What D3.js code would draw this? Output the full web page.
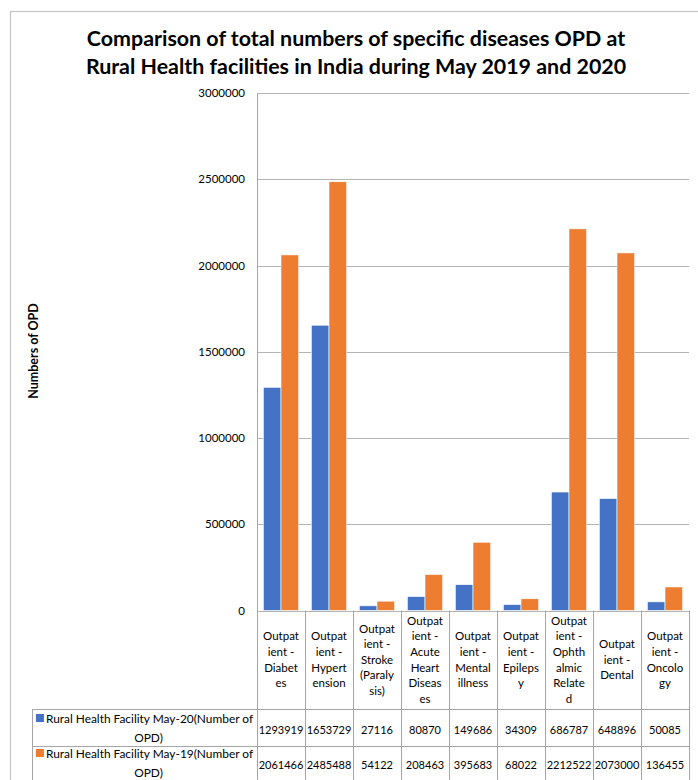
<!DOCTYPE html>
<html>
<head>
<meta charset="utf-8">
<script src="https://cdn.jsdelivr.net/npm/d3@7"></script>
<style>
  html, body { margin: 0; padding: 0; background: #fff; }
  svg { display: block; }
  text { font-family: Lato, "Open Sans", sans-serif; fill: #000; }
</style>
</head>
<body>
<svg id="chart" width="698" height="780"></svg>
<script>
// Diseases compared (full names) and how each is wrapped in the table header
const categories = [
  "Outpatient - Diabetes", "Outpatient - Hypertension", "Outpatient - Stroke (Paralysis)",
  "Outpatient - Acute Heart Diseases", "Outpatient - Mental illness", "Outpatient - Epilepsy",
  "Outpatient - Ophthalmic Related", "Outpatient - Dental", "Outpatient - Oncology"
];
const categoryLines = [
  ["Outpat", "ient -", "Diabet", "es"],
  ["Outpat", "ient -", "Hypert", "ension"],
  ["Outpat", "ient -", "Stroke", "(Paraly", "sis)"],
  ["Outpat", "ient -", "Acute", "Heart", "Diseas", "es"],
  ["Outpat", "ient -", "Mental", "illness"],
  ["Outpat", "ient -", "Epileps", "y"],
  ["Outpat", "ient -", "Ophth", "almic", "Relate", "d"],
  ["Outpat", "ient -", "Dental"],
  ["Outpat", "ient -", "Oncolo", "gy"]
];
const seriesNames = [
  "Rural Health Facility May-20(Number of OPD)",
  "Rural Health Facility May-19(Number of OPD)"
];
const seriesLegendLines = [
  ["Rural Health Facility May-20(Number of", "OPD)"],
  ["Rural Health Facility May-19(Number of", "OPD)"]
];
const may20 = [1293919, 1653729, 27116, 80870, 149686, 34309, 686787, 648896, 50085];
const may19 = [2061466, 2485488, 54122, 208463, 395683, 68022, 2212522, 2073000, 136455];
const yTicks = [0, 500000, 1000000, 1500000, 2000000, 2500000, 3000000];
const colors = ["#4472C4", "#ED7D31"];
const titleLines = [
  "Comparison of total numbers of specific diseases OPD at",
  "Rural Health facilities in India during May 2019 and 2020"
];

const svg = d3.select("#chart");
const series = [may20, may19];

// layout
const plot = { left: 257, right: 689, top: 93, bottom: 610.5 };
const headerBottom = 709;
const row1Bottom = 746;
const row2Bottom = 781;
const legendLeft = 32;

// outer chart frame
svg.append("rect")
  .attr("x", 10.5).attr("y", 11.5)
  .attr("width", 720).attr("height", 800)
  .attr("fill", "none").attr("stroke", "#c6c6c6").attr("stroke-width", 1.2);

// title
svg.append("g").selectAll("text").data(titleLines).join("text")
  .attr("x", 356).attr("y", (d, i) => 46 + i * 28)
  .attr("text-anchor", "middle")
  .attr("font-size", 21.4).attr("font-weight", 700)
  .text(d => d);

const x = d3.scaleBand().domain(categories).range([plot.left, plot.right]).paddingInner(0).paddingOuter(0);
const x1 = d3.scaleBand().domain([0, 1]).range([0, x.bandwidth()]).paddingInner(0).paddingOuter(0.36);
const y = d3.scaleLinear().domain([0, 3000000]).range([plot.bottom, plot.top]);

// gridlines
svg.append("g").selectAll("line").data(yTicks).join("line")
  .attr("x1", plot.left).attr("x2", plot.right)
  .attr("y1", d => Math.round(y(d)) + 0.5).attr("y2", d => Math.round(y(d)) + 0.5)
  .attr("stroke", "#b4b4b4").attr("stroke-width", 1);

// y axis labels
const yAxis = d3.axisLeft(y).tickValues(yTicks).tickSize(0).tickPadding(12).tickFormat(d3.format("d"));
const yg = svg.append("g").attr("transform", `translate(${plot.left},0)`).call(yAxis);
yg.select(".domain").remove();
yg.selectAll("text").attr("font-size", 11.5).attr("font-family", "Lato, sans-serif").attr("fill", "#000");

// left axis line
svg.append("line")
  .attr("x1", plot.left + 0.5).attr("x2", plot.left + 0.5)
  .attr("y1", plot.top).attr("y2", row2Bottom)
  .attr("stroke", "#a6a6a6");

// y axis title
svg.append("text")
  .attr("transform", "translate(38,351) rotate(-90)")
  .attr("text-anchor", "middle")
  .attr("font-size", 12.5).attr("font-weight", 700)
  .text("Numbers of OPD");

// bars
const groups = svg.append("g").selectAll("g").data(categories).join("g")
  .attr("transform", d => `translate(${x(d)},0)`);
groups.selectAll("rect")
  .data((d, i) => series.map((s, k) => ({ k, v: s[i] })))
  .join("rect")
  .attr("x", d => x1(d.k))
  .attr("width", x1.bandwidth())
  .attr("y", d => y(d.v))
  .attr("height", d => plot.bottom - y(d.v))
  .attr("fill", d => colors[d.k])
  .attr("stroke", "#fff").attr("stroke-width", 0.6);

// data table grid
const tableG = svg.append("g").attr("stroke", "#a6a6a6").attr("stroke-width", 1);
[headerBottom, row1Bottom].forEach(yy => {
  tableG.append("line").attr("x1", legendLeft).attr("x2", plot.right)
    .attr("y1", yy + 0.5).attr("y2", yy + 0.5);
});
tableG.append("line").attr("x1", legendLeft + 0.5).attr("x2", legendLeft + 0.5)
  .attr("y1", headerBottom).attr("y2", row2Bottom);
tableG.selectAll("line.col").data(categories).join("line").attr("class", "col")
  .attr("x1", d => x(d) + x.bandwidth() + 0.5).attr("x2", d => x(d) + x.bandwidth() + 0.5)
  .attr("y1", plot.bottom).attr("y2", row2Bottom);

// header labels
const lh = 15.6;
const headerMid = (plot.bottom + headerBottom) / 2 + 4;
svg.append("g").selectAll("g").data(categories).join("g")
  .each(function (d, i) {
    const lines = categoryLines[i];
    const cx = x(d) + x.bandwidth() / 2;
    d3.select(this).selectAll("text").data(lines).join("text")
      .attr("x", cx)
      .attr("y", (t, j) => headerMid + (j - (lines.length - 1) / 2) * lh)
      .attr("text-anchor", "middle")
      .attr("font-size", 11.5)
      .text(t => t);
  });

// value rows
const rowBaselines = [734, 769];
series.forEach((s, k) => {
  svg.append("g").selectAll("text").data(s).join("text")
    .attr("x", (v, i) => x(categories[i]) + x.bandwidth() / 2)
    .attr("y", rowBaselines[k])
    .attr("text-anchor", "middle")
    .attr("font-size", 11)
    .text(v => v);
});

// legend cells
const legendCx = (legendLeft + plot.left) / 2;
const legendBaselines = [[723, 742], [758, 777]];
seriesLegendLines.forEach((lines, k) => {
  const g = svg.append("g");
  const t1 = g.append("text")
    .attr("x", legendCx + 5).attr("y", legendBaselines[k][0])
    .attr("text-anchor", "middle").attr("font-size", 11.9)
    .text(lines[0]);
  const w = t1.node().getComputedTextLength();
  g.append("rect")
    .attr("x", legendCx + 5 - w / 2 - 10).attr("y", legendBaselines[k][0] - 9)
    .attr("width", 8).attr("height", 8).attr("fill", colors[k]);
  g.append("text")
    .attr("x", legendCx + 4).attr("y", legendBaselines[k][1])
    .attr("text-anchor", "middle").attr("font-size", 11.9)
    .text(lines[1]);
});
</script>
</body>
</html>
